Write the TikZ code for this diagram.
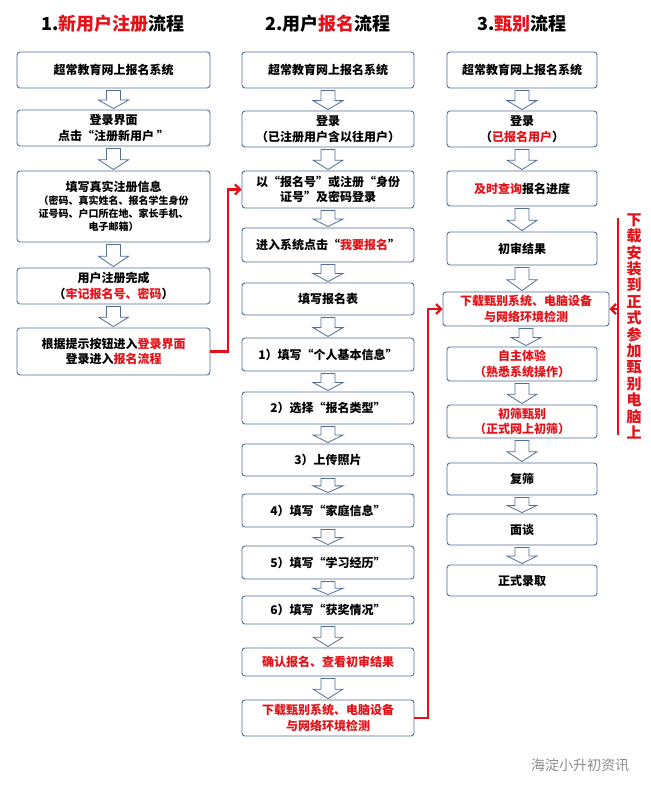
\documentclass[tikz,border=0pt]{standalone}
\usepackage{fontspec}
\setmainfont{Noto Sans CJK SC}
\newfontfamily\cjk{Noto Sans CJK SC}
\usetikzlibrary{calc,arrows.meta}
\definecolor{boxline}{RGB}{84,110,150}
\definecolor{hred}{RGB}{228,18,24}
\newcommand{\hr}[1]{\textcolor{hred}{#1}}
\tikzset{
  flowbox/.style={draw=boxline, line width=0.9pt, rounded corners=3pt, fill=white,
    align=center, font=\fontsize{12}{15.5}\selectfont\bfseries, inner sep=1pt},
  colA/.style={flowbox, minimum width=193pt},
  colB/.style={flowbox, minimum width=172pt},
  colC/.style={flowbox, minimum width=150pt},
  title/.style={font=\fontsize{18}{20}\selectfont\bfseries},
  redline/.style={draw=hred, line width=2.2pt},
  redarrow/.style={redline, -{Straight Barb[length=5pt,width=10pt]}},
}
% hollow block arrow between two boxes
\newcommand{\barrow}[2]{%
  \path[draw=boxline, fill=white, line width=0.8pt]
    let \p1=(#1.south), \p2=(#2.north), \n1={\y1-2pt}, \n2={\y2+1pt}, \n3={0.45*\y1+0.55*\y2} in
    (\x1-7pt,\n1) -- (\x1+7pt,\n1) -- (\x1+7pt,\n3) -- (\x1+15pt,\n3) -- (\x1,\n2)
    -- (\x1-15pt,\n3) -- (\x1-7pt,\n3) -- cycle;}
\begin{document}
\begin{tikzpicture}[x=1pt,y=-1pt]
\useasboundingbox[fill=white] (0,0) rectangle (650,794);

% titles
\node[title] (t1) at (113,24) {1.\hr{新用户注册}流程};
\node[title] (t2) at (328,24) {2.用户\hr{报名}流程};
\node[title] (t3) at (522,24) {3.\hr{甄别}流程};

% column 1
\node[colA, minimum height=36pt] (a1) at (113.5,70) {超常教育网上报名系统};
\node[colA, minimum height=36pt] (a2) at (113.5,128) {登录界面\\点击“注册新用户 ”};
\node[colA, minimum height=71pt, font=\fontsize{10}{13}\selectfont\bfseries] (a3) at (113.5,206.5)
  {\fontsize{12}{15}\selectfont 填写真实注册信息\\（密码、真实姓名、报名学生身份\\证号码、户口所在地、家长手机、\\电子邮箱）};
\node[colA, minimum height=36pt] (a4) at (113.5,286) {用户注册完成\\（\hr{牢记报名号、密码}）};
\node[colA, minimum height=47pt] (a5) at (113.5,351.5) {根据提示按钮进入\hr{登录界面}\\登录进入\hr{报名流程}};

% column 2
\node[colB, minimum height=36pt] (b1) at (328,70) {超常教育网上报名系统};
\node[colB, minimum height=36pt] (b2) at (328,129) {登录\\（已注册用户含以往用户）};
\node[colB, minimum height=37pt] (b3) at (328,189.5) {以“报名号”或注册“身份\\证号”及密码登录};
\node[colB, minimum height=34pt] (b4) at (328,245) {进入系统点击“\hr{我要报名}”};
\node[colB, minimum height=32pt] (b5) at (328,299) {填写报名表};
\node[colB, minimum height=33pt] (b6) at (328,354.5) {1）填写“个人基本信息”};
\node[colB, minimum height=32pt] (b7) at (328,408) {2）选择“报名类型”};
\node[colB, minimum height=32pt] (b8) at (328,460) {3）上传照片};
\node[colB, minimum height=33pt] (b9) at (328,510.5) {4）填写“家庭信息”};
\node[colB, minimum height=33pt] (b10) at (328,562.5) {5）填写“学习经历”};
\node[colB, minimum height=28pt] (b11) at (328,610) {6）填写“获奖情况”};
\node[colB, minimum height=28pt] (b12) at (328,662) {\hr{确认报名、查看初审结果}};
\node[colB, minimum height=36pt] (b13) at (328,718) {\hr{下载甄别系统、电脑设备}\\\hr{与网络环境检测}};

% column 3
\node[colC, minimum height=36pt] (c1) at (522,70) {超常教育网上报名系统};
\node[colC, minimum height=36pt] (c2) at (522,129) {登录\\（\hr{已报名用户}）};
\node[colC, minimum height=35pt] (c3) at (522,188.5) {\hr{及时查询}报名进度};
\node[colC, minimum height=33pt] (c4) at (522,248.5) {初审结果};
\node[flowbox, minimum width=166pt, minimum height=34pt] (c5) at (526,309) {\hr{下载甄别系统、电脑设备}\\\hr{与网络环境检测}};
\node[colC, minimum height=34pt] (c6) at (522,364) {\hr{自主体验}\\\hr{（熟悉系统操作）}};
\node[colC, minimum height=33pt] (c7) at (522,421.5) {\hr{初筛甄别}\\\hr{（正式网上初筛）}};
\node[colC, minimum height=32pt] (c8) at (522,479) {复筛};
\node[colC, minimum height=31pt] (c9) at (522,529.5) {面谈};
\node[colC, minimum height=31pt] (c10) at (522,580.5) {正式录取};

% block arrows
\foreach \u/\v in {a1/a2,a2/a3,a3/a4,a4/a5,
  b1/b2,b2/b3,b3/b4,b4/b5,b5/b6,b6/b7,b7/b8,b8/b9,b9/b10,b10/b11,b11/b12,b12/b13,
  c1/c2,c2/c3,c3/c4,c4/c5,c5/c6,c6/c7,c7/c8,c8/c9,c9/c10}
  \barrow{\u}{\v};

% red links
\coordinate (ka) at (228,351.5);
\draw[redarrow] (a5.east) -- (ka) |- (b3.west);
\coordinate (kb) at (428,718);
\draw[redarrow] (b13.east) -- (kb) |- (c5.west);
\coordinate (top) at (618,218);
\coordinate (bot) at (618,435);
\coordinate (mid) at (618,309);
\draw[redline] (top) -- (bot);
\draw[redarrow] (mid) -- (c5.east);
\node[text=hred, font=\fontsize{15}{16.4}\selectfont\bfseries, align=center, anchor=north] (side) at (634,210)
  {下\\载\\安\\装\\到\\正\\式\\参\\加\\甄\\别\\电\\脑\\上};

% watermark
\node[text=black!45, font=\fontsize{14}{16}\selectfont] (wm) at (580,765) {海淀小升初资讯};
\end{tikzpicture}
\end{document}
